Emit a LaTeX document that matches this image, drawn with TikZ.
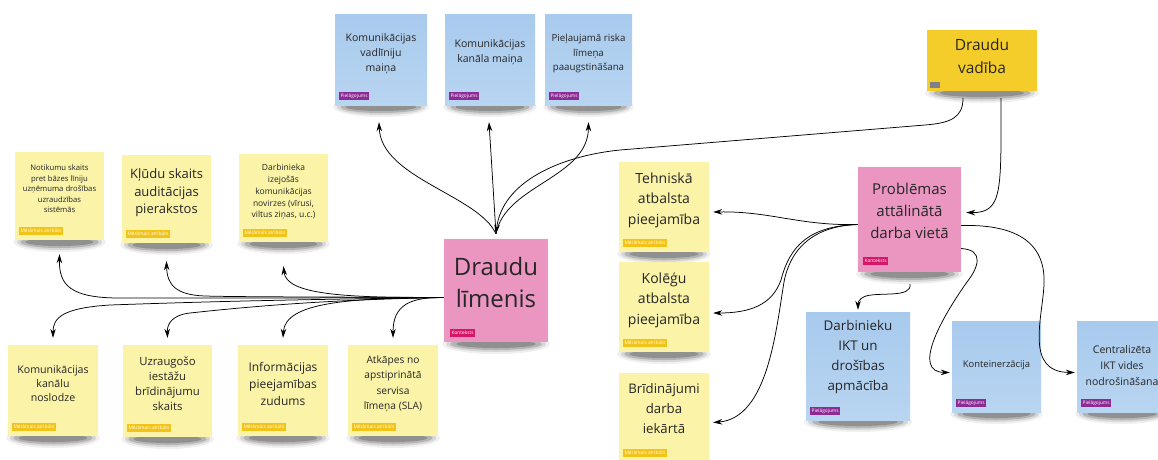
\documentclass[tikz,border=0pt]{standalone}
\usepackage{fontspec}
\setmainfont{Open Sans}
\usetikzlibrary{arrows.meta}

\definecolor{noteyellow}{RGB}{250,243,168}
\definecolor{noteblue}{RGB}{168,202,237}
\definecolor{noteblueb}{RGB}{184,213,241}
\definecolor{notepink}{RGB}{234,150,193}
\definecolor{notegold}{RGB}{245,205,42}
\definecolor{tagyellow}{RGB}{242,196,25}
\definecolor{tagpurple}{RGB}{140,42,150}
\definecolor{tagpink}{RGB}{215,22,105}
\definecolor{taggrey}{RGB}{128,128,135}
\definecolor{inktext}{RGB}{38,38,38}

\tikzset{
  notebox/.style={rectangle, inner sep=0pt, draw=none},
  ynote/.style={fill=noteyellow},
  bnote/.style={top color=noteblue, bottom color=noteblueb},
  pnote/.style={fill=notepink},
  gnote/.style={fill=notegold},
  notetext/.style={align=center, text=inktext, inner sep=0pt},
  tagbase/.style={anchor=south west, inner xsep=1.6pt, inner ysep=0pt,
    minimum height=8pt, text=white, font=\fontsize{4.8}{5}\selectfont},
  tagM/.style={tagbase, fill=tagyellow},
  tagP/.style={tagbase, fill=tagpurple},
  tagK/.style={tagbase, fill=tagpink},
  conn/.style={-{Stealth[length=9pt,width=5.5pt]}, line width=0.75pt, black},
}

% sticky note: name, centre x, centre y, width, height, fill style, font, text, text lift
\newcommand{\stickynote}[9]{%
  \fill[black, opacity=.06] (#2,{#3+#5/2+2}) ellipse [x radius={0.52*#4pt}, y radius=10pt];
  \fill[black, opacity=.10] (#2,{#3+#5/2+2}) ellipse [x radius={0.48*#4pt}, y radius=8pt];
  \fill[black, opacity=.16] (#2,{#3+#5/2+2}) ellipse [x radius={0.44*#4pt}, y radius=6pt];
  \fill[black, opacity=.20] (#2,{#3+#5/2+2}) ellipse [x radius={0.38*#4pt}, y radius=4pt];
  \node[notebox, #6, minimum width=#4pt, minimum height=#5pt] (#1) at (#2,#3) {};
  \node[notetext, font=#7] (#1-text) at ([yshift=#9]#1.center) {#8};
}

\begin{document}
\begin{tikzpicture}[x=1pt, y=-1pt]
\useasboundingbox (0,0) rectangle (1158,459);
\clip (0,0) rectangle (1158,459);
\fill[white] (0,0) rectangle (1158,459);

% --- measured attributes, upper row
\stickynote{y1}{59.5}{196}{89}{88}{ynote}{\fontsize{7.7}{10.5}\selectfont}{Notikumu skaits\\pret bāzes līniju\\uzņēmuma drošības\\uzraudzības\\sistēmās}{7pt}
\stickynote{y2}{166.5}{199}{89}{88}{ynote}{\fontsize{13}{17.5}\selectfont}{Kļūdu skaits\\auditācijas\\pierakstos}{6pt}
\stickynote{y3}{283.5}{198}{89}{88}{ynote}{\fontsize{8.5}{11.8}\selectfont}{Darbinieka\\izejošās\\komunikācijas\\novirzes (vīrusi,\\viltus ziņas, u.c.)}{6pt}

% --- adjustments, top row
\stickynote{b1}{381}{59.5}{92}{91}{bnote}{\fontsize{10.5}{15}\selectfont}{Komunikācijas\\vadlīniju\\maiņa}{6pt}
\stickynote{b2}{490}{59.5}{90}{91}{bnote}{\fontsize{10.5}{15}\selectfont}{Komunikācijas\\kanāla maiņa}{7pt}
\stickynote{b3}{588.5}{59.5}{87}{91}{bnote}{\fontsize{9.7}{14.5}\selectfont}{Pieļaujamā riska\\līmeņa\\paaugstināšana}{6pt}

% --- threat management
\stickynote{dv}{982}{60.5}{110}{61}{gnote}{\fontsize{15.5}{23}\selectfont}{Draudu\\vadība}{4pt}

% --- threat level
\stickynote{dl}{496}{290.5}{104}{103}{pnote}{\fontsize{24}{32}\selectfont}{Draudu\\līmenis}{8pt}

% --- measured attributes, lower row
\stickynote{y4}{53}{390.5}{90}{91}{ynote}{\fontsize{10.6}{14}\selectfont}{Komunikācijas\\kanālu\\noslodze}{7pt}
\stickynote{y5}{167.5}{391}{89}{92}{ynote}{\fontsize{11.3}{15}\selectfont}{Uzraugošo\\iestāžu\\brīdinājumu\\skaits}{7pt}
\stickynote{y6}{283}{390.5}{90}{91}{ynote}{\fontsize{12}{17}\selectfont}{Informācijas\\pieejamības\\zudums}{7pt}
\stickynote{y7}{393}{390.5}{90}{91}{ynote}{\fontsize{10.2}{15.5}\selectfont}{Atkāpes no\\apstiprinātā\\servisa\\līmeņa (SLA)}{7pt}

% --- remote work column
\stickynote{y8}{664}{207}{90}{90}{ynote}{\fontsize{14}{20.5}\selectfont}{Tehniskā\\atbalsta\\pieejamība}{7pt}
\stickynote{y9}{664}{307}{90}{90}{ynote}{\fontsize{14}{20.5}\selectfont}{Kolēģu\\atbalsta\\pieejamība}{7pt}
\stickynote{y10}{664}{417.5}{90}{89}{ynote}{\fontsize{13.2}{20}\selectfont}{Brīdinājumi\\darba\\iekārtā}{8.5pt}

\stickynote{p2}{909.5}{219.5}{103}{105}{pnote}{\fontsize{15}{22}\selectfont}{Problēmas\\attālinātā\\darba vietā}{9pt}

\stickynote{b4}{858}{366}{104}{108}{bnote}{\fontsize{13.4}{20}\selectfont}{Darbinieku\\IKT un\\drošības\\apmācība}{8.5pt}
\stickynote{b5}{996.5}{366.5}{89}{91}{bnote}{\fontsize{9.4}{14}\selectfont}{Konteinerzācija}{1pt}
\stickynote{b6}{1122}{366.5}{90}{91}{bnote}{\fontsize{10.5}{16}\selectfont}{Centralizēta\\IKT vides\\nodrošināšana}{1pt}

% --- category tags
\foreach \n in {y1,y2,y3,y4,y5,y6,y7,y8,y9,y10}
  \node[tagM] (\n-tag) at ([xshift=4pt,yshift=5pt]\n.south west) {Mērāmais atribūts};
\foreach \n in {b1,b2,b3,b4,b5,b6}
  \node[tagP] (\n-tag) at ([xshift=4pt,yshift=5pt]\n.south west) {Pielāgojums};
\node[tagK] (dl-tag) at ([xshift=6pt,yshift=5pt]dl.south west) {Konteksts};
\node[tagK] (p2-tag) at ([xshift=5pt,yshift=7pt]p2.south west) {Konteksts};
\node[fill=taggrey, minimum width=10pt, minimum height=6pt, inner sep=0pt,
      anchor=south west] (dv-tag) at ([xshift=3pt,yshift=3pt]dv.south west) {};

% --- connector end points
\coordinate (dl-top) at ([yshift=5pt]dl.north);
\coordinate (dl-left) at ([yshift=-7pt]dl.west);
\coordinate (p2-left) at ([yshift=-5pt]p2.west);

% threat management -> threat level and remote work problems
\draw[conn] ([xshift=-19pt,yshift=-7pt]dv.south) .. controls (963,118) and (950,123) .. (925,125)
  -- (620,150) .. controls (560,156) and (502,182) .. (dl-top);
\draw[conn] ([xshift=19pt,yshift=-7pt]dv.south) .. controls (1001,190) and (1003,213) .. ([xshift=5pt,yshift=7pt]p2.east);

% threat level -> adjustments
\draw[conn] (dl-top) .. controls (478,195) and (381,178) .. ([xshift=-2pt,yshift=-17pt]b1.south);
\draw[conn] (dl-top) -- ([xshift=-1pt,yshift=-17pt]b2.south);
\draw[conn] (dl-top) .. controls (505,185) and (588,178) .. ([yshift=-17pt]b3.south);

% threat level -> measured attributes
\draw[conn] (dl-left) .. controls (330,298) and (200,298) .. (120,298)
  .. controls (70,298) and (59,285) .. ([yshift=-14pt]y1.south);
\draw[conn] (dl-left) .. controls (340,297) and (240,297) .. (205,296)
  .. controls (176,295) and (167,285) .. ([yshift=-18pt]y2.south);
\draw[conn] (dl-left) .. controls (340,298) and (286,294) .. ([yshift=-24pt]y3.south);
\draw[conn] (dl-left) .. controls (350,299) and (250,300) .. (110,305)
  .. controls (62,308) and (53,318) .. ([yshift=7pt]y4.north);
\draw[conn] (dl-left) .. controls (370,299) and (290,302) .. (190,313)
  .. controls (172,315) and (167,324) .. ([yshift=7pt]y5.north);
\draw[conn] (dl-left) .. controls (350,298) and (285,302) .. ([yshift=7pt]y6.north);
\draw[conn] (dl-left) .. controls (410,297) and (393,305) .. ([yshift=7pt]y7.north);

% remote work problems -> attributes and adjustments
\draw[conn] (p2-left) .. controls (800,226) and (770,211) .. ([xshift=4pt,yshift=-5pt]y8.east);
\draw[conn] (p2-left) .. controls (810,226) and (790,245) .. (781,280)
  .. controls (772,305) and (750,313) .. ([xshift=4pt,yshift=-6pt]y9.east);
\draw[conn] (p2-left) .. controls (812,226) and (790,250) .. (784,282)
  .. controls (776,330) and (768,418) .. ([xshift=4pt,yshift=-5pt]y10.east);
\draw[conn] ([xshift=0.5pt,yshift=-12pt]p2.south) .. controls (912,298) and (880,292) .. (866,296)
  .. controls (858,299) and (858,303) .. ([yshift=2pt]b4.north);
\draw[conn] ([yshift=-29pt]p2.east) .. controls (985,250) and (978,268) .. (967,282)
  .. controls (940,320) and (912,372) .. ([xshift=-2pt,yshift=-6pt]b5.west);
\draw[conn] ([yshift=-6pt]p2.east) .. controls (1020,224) and (1046,245) .. (1044,285)
  .. controls (1042,320) and (1025,372) .. ([xshift=-2pt,yshift=-6pt]b6.west);
\end{tikzpicture}
\end{document}
